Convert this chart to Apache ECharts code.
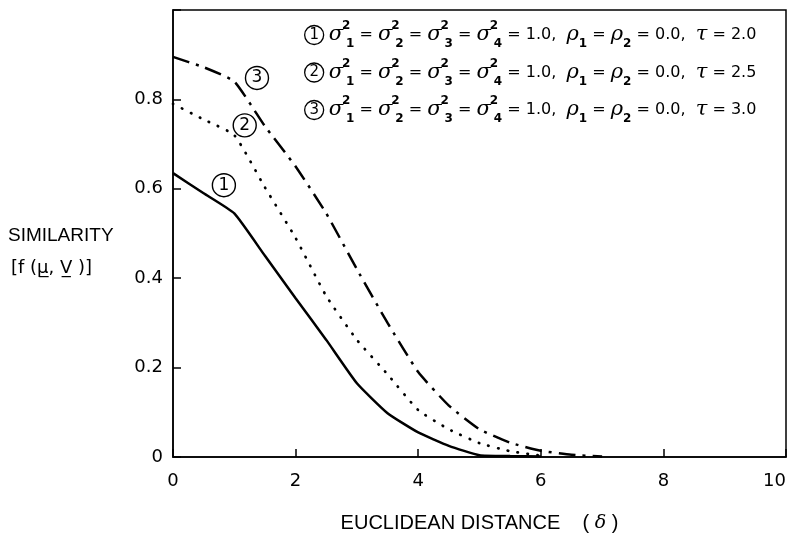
<!DOCTYPE html>
<html>
<head>
<meta charset="utf-8">
<script src="https://cdn.jsdelivr.net/npm/echarts@6/dist/echarts.min.js"></script>
<style>
  html, body { margin: 0; padding: 0; background: #fff; }
  #chart { width: 795px; height: 541px; }
</style>
</head>
<body>
<div id="chart"></div>
<script>
// distance values (x) shared by the three curves
const distance = [0, 0.5, 1, 1.5, 2, 2.5, 3, 3.5, 4, 4.5, 5, 5.5, 6, 6.5, 7];
// tau = 2.0 (solid)
const simTau20 = [0.635, 0.59, 0.545, 0.45, 0.355, 0.262, 0.165, 0.098, 0.055, 0.025, 0.004, 0.002, 0.001, null, null];
// tau = 2.5 (dotted)
const simTau25 = [0.79, 0.755, 0.72, 0.603, 0.49, 0.36, 0.262, 0.185, 0.105, 0.062, 0.031, 0.013, 0.003, null, null];
// tau = 3.0 (dash-dot)
const simTau30 = [0.895, 0.872, 0.84, 0.74, 0.65, 0.545, 0.42, 0.30, 0.19, 0.115, 0.062, 0.032, 0.014, 0.005, 0.001];

const xTicks = [0, 2, 4, 6, 8, 10];
const yTicks = [0, 0.2, 0.4, 0.6, 0.8];
const taus = ['2.0', '2.5', '3.0'];
// where the circled curve numbers sit, in data coords
const markerPos = [[0.83, 0.608], [1.17, 0.742], [1.37, 0.848]];

const chart = echarts.init(document.getElementById('chart'));

const toPairs = ys => distance.map((x, i) => [x, ys[i]]).filter(p => p[1] !== null);

const circleMark = (n, pos) => ({
  symbol: 'circle',
  symbolSize: 23,
  silent: true,
  itemStyle: {color: 'rgba(0,0,0,0)', borderColor: '#000', borderWidth: 1.4},
  label: {show: true, position: 'inside', formatter: String(n), color: '#000', fontSize: 17, fontFamily: 'DejaVu Sans'},
  data: [{coord: pos}]
});

const mainFont = 'DejaVu Sans';
const legendRich = {
  c: {width: 19, height: 19, borderRadius: 10, borderColor: '#000', borderWidth: 1.3, align: 'center',
      fontSize: 15, fontFamily: mainFont, lineHeight: 19, color: '#000'},
  g: {fontSize: 21, fontStyle: 'italic', fontFamily: 'DejaVu Serif', color: '#000', lineHeight: 30},
  sp: {width: 3, fontSize: 10},
  sup: {fontSize: 12, fontWeight: 'bold', fontFamily: mainFont, verticalAlign: 'top', lineHeight: 15, width: 0, color: '#000'},
  sub: {fontSize: 12, fontWeight: 'bold', fontFamily: mainFont, verticalAlign: 'bottom', lineHeight: 13, color: '#000'},
  t: {fontSize: 16, fontFamily: mainFont, color: '#000', lineHeight: 30}
};

const sig = i => `{g|σ}{sp| }{sup|2}{sub|${i}}`;
const legendRow = (n, tau) =>
  `{c|${n}}{t| }${sig(1)}{t| = }${sig(2)}{t| = }${sig(3)}{t| = }${sig(4)}` +
  `{t| = 1.0,  }{g|ρ}{sub|1}{t| = }{g|ρ}{sub|2}{t| = 0.0,  }{g|τ}{t| = ${tau}}`;

const option = {
  animation: false,
  backgroundColor: '#fff',
  grid: {left: 173, right: 9, top: 10, bottom: 84, show: true, borderColor: '#000', borderWidth: 1.5,
    outerBoundsMode: 'none'},
  xAxis: {
    type: 'value', min: 0, max: 10, interval: 2,
    name: 'EUCLIDEAN DISTANCE    ( {g|δ} )',
    nameLocation: 'middle', nameGap: 56,
    nameTextStyle: {fontSize: 20, fontFamily: 'Liberation Sans', color: '#000',
      rich: {g: {fontSize: 19, fontStyle: 'italic', fontFamily: 'DejaVu Serif', color: '#000'}}},
    axisLine: {lineStyle: {color: '#000', width: 1.5}},
    axisTick: {inside: true, length: 8, lineStyle: {color: '#000', width: 1.5}},
    axisLabel: {fontSize: 18, fontFamily: mainFont, color: '#000', margin: 15, alignMaxLabel: 'right',
      formatter: v => xTicks.includes(v) ? String(v) : ''},
    splitLine: {show: false}
  },
  yAxis: {
    type: 'value', min: 0, max: 1, interval: 0.2,
    axisLine: {show: true, lineStyle: {color: '#000', width: 1.5}},
    axisTick: {show: true, inside: true, length: 8, lineStyle: {color: '#000', width: 1.5}},
    axisLabel: {fontSize: 18, fontFamily: mainFont, color: '#000', margin: 10,
      formatter: v => {
        const t = yTicks.find(y => Math.abs(y - v) < 1e-6);
        if (t === undefined) return '';
        return t === 0 ? '0' : t.toFixed(1);
      }},
    splitLine: {show: false}
  },
  series: [
    {
      name: 'tau 2.0', type: 'line', data: toPairs(simTau20), showSymbol: false, smooth: 0.15,
      lineStyle: {color: '#000', width: 2.5},
      markPoint: circleMark(1, markerPos[0])
    },
    {
      name: 'tau 2.5', type: 'line', data: toPairs(simTau25), showSymbol: false, smooth: 0.15,
      lineStyle: {color: '#000', width: 2.7, type: [0.5, 9.5], cap: 'round'},
      markPoint: circleMark(2, markerPos[1])
    },
    {
      name: 'tau 3.0', type: 'line', data: toPairs(simTau30), showSymbol: false, smooth: 0.15,
      lineStyle: {color: '#000', width: 2.5, type: [17, 7, 3, 7]},
      markPoint: circleMark(3, markerPos[2])
    }
  ],
  graphic: [
    ...taus.map((tau, i) => ({
      type: 'text', left: 304, top: 20 + i * 37.5, silent: true,
      style: {text: legendRow(i + 1, tau), rich: legendRich}
    })),
    {
      type: 'text', left: 8, top: 226, silent: true,
      style: {text: 'SIMILARITY', fontSize: 19, fontFamily: 'Liberation Sans', fill: '#000'}
    },
    {
      type: 'text', left: 11, top: 259, silent: true,
      style: {text: '[f (\u03BC\u0332, V\u0332 )]', fontSize: 18, fontFamily: 'DejaVu Sans', fill: '#000'}
    }
  ]
};

chart.setOption(option);
</script>
</body>
</html>
